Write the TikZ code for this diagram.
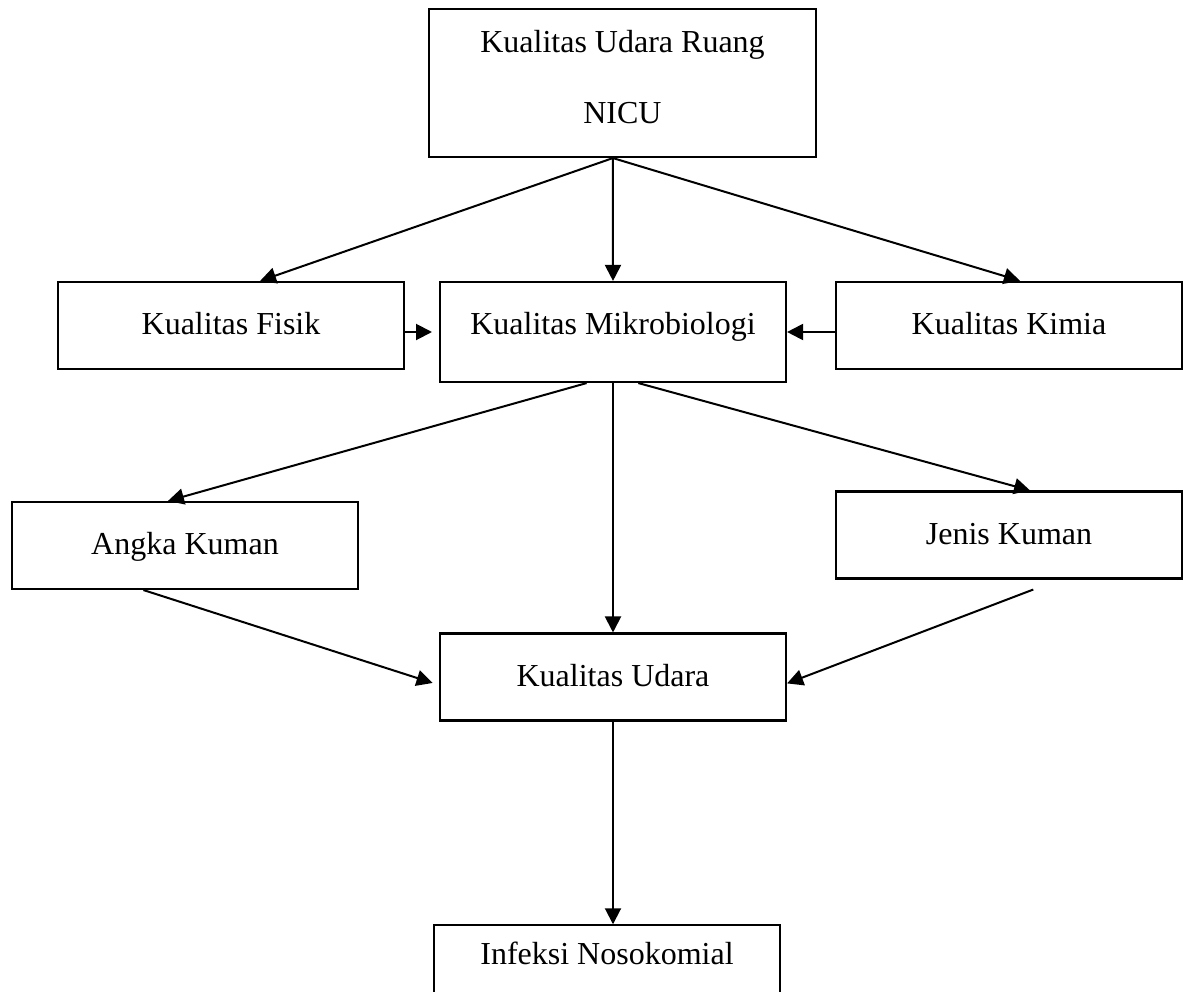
\documentclass[tikz,border=0pt]{standalone}
\usepackage{fontspec}
\setmainfont{Liberation Serif}
\usetikzlibrary{arrows.meta}
\tikzstyle{box}=[rectangle,draw=black,line width=0.8pt,minimum width=129.75pt,minimum height=32.6pt,inner sep=0pt,font=\fontsize{12pt}{14.4pt}\selectfont,text height=8.2pt,text depth=1.3pt]
\tikzstyle{tallbox}=[style=box,minimum height=37.5pt,text depth=6.1pt]
\tikzstyle{topbox}=[rectangle,draw=black,line width=0.8pt,minimum width=145.1pt,minimum height=55.5pt,inner sep=0pt,align=center,font=\fontsize{12pt}{14.4pt}\selectfont]
\tikzstyle{inarrow}=[->, >={Triangle[length=6pt,width=6pt]}, line width=0.75pt]
\pgfdeclarelayer{edgelayer}
\pgfdeclarelayer{nodelayer}
\pgfsetlayers{edgelayer,nodelayer,main}
\begin{document}
\begin{tikzpicture}[x=0.375pt,y=-0.375pt]
	\useasboundingbox (0,0) rectangle (1183,992);
	\begin{pgfonlayer}{nodelayer}
		\node [style=topbox] (ruang) at (622.5, 83) {Kualitas Udara Ruang\\[12.5pt]NICU\rule[-4.5pt]{0pt}{1pt}};
		\node [style=box] (fisik) at (231, 325.5) {Kualitas Fisik};
		\node [style=tallbox] (mikro) at (613, 332) {Kualitas Mikrobiologi};
		\node [style=box] (kimia) at (1009, 325.3) {Kualitas Kimia};
		\node [style=box] (angka) at (185, 545.5) {Angka Kuman};
		\node [style=box] (jenis) at (1009, 535) {Jenis Kuman};
		\node [style=box] (udara) at (613, 677) {Kualitas Udara};
		\node [style=box, text depth=11.3pt] (infeksi) at (607, 968.8) {Infeksi Nosokomial};
	\end{pgfonlayer}
	\begin{pgfonlayer}{edgelayer}
		\draw [style=inarrow] ([xshift=-3.6pt]ruang.south) to ([xshift=10.9pt]fisik.north);
		\draw [style=inarrow] ([xshift=-3.6pt]ruang.south) to (mikro.north);
		\draw [style=inarrow] ([xshift=-3.6pt]ruang.south) to ([xshift=4.1pt]kimia.north);
		\draw [style=inarrow, shorten >=2.6pt] (fisik.east |- mikro.west) to (mikro.west);
		\draw [style=inarrow] (kimia.west |- mikro.east) to (mikro.east);
		\draw [style=inarrow] ([xshift=-9.9pt]mikro.south) to ([xshift=-6.4pt]angka.north);
		\draw [style=inarrow] (mikro.south) to (udara.north);
		\draw [style=inarrow] ([xshift=9.5pt]mikro.south) to ([xshift=7.9pt]jenis.north);
		\draw [style=inarrow, shorten >=2.5pt] ([xshift=-15.6pt]angka.south) to ([yshift=-3pt]udara.west);
		\draw [style=inarrow] ([xshift=9.1pt,yshift=-3.75pt]jenis.south) to ([yshift=-2.4pt]udara.east);
		\draw [style=inarrow] (udara.south) to (udara.south |- infeksi.north);
	\end{pgfonlayer}
\end{tikzpicture}
\end{document}
